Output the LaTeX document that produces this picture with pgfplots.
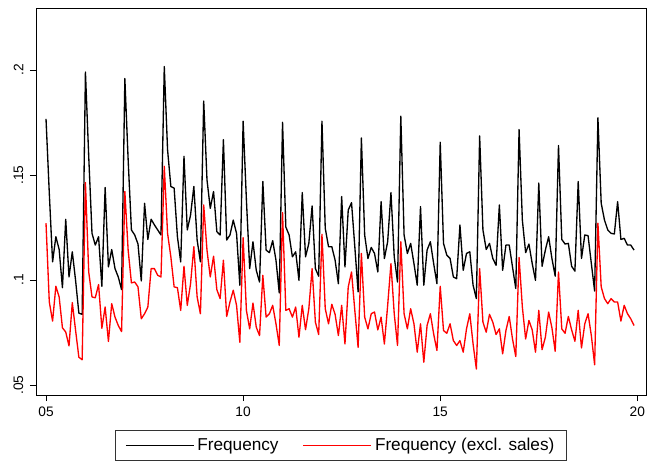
\documentclass[border=0pt]{standalone}
\usepackage{fontspec}
\setmainfont{Liberation Sans}
\usepackage{pgfplots}
\usepackage{pgfplotstable}
\pgfplotsset{compat=1.18}

\pgfplotstableread{
yr m f fx
5 1 0.1767 0.1270
5 2 0.1413 0.0895
5 3 0.1086 0.0804
5 4 0.1206 0.0970
5 5 0.1145 0.0919
5 6 0.0963 0.0772
5 7 0.1289 0.0752
5 8 0.1014 0.0686
5 9 0.1134 0.0892
5 10 0.0998 0.0760
5 11 0.0842 0.0632
5 12 0.0836 0.0620
6 1 0.1990 0.1464
6 2 0.1589 0.1038
6 3 0.1222 0.0919
6 4 0.1166 0.0915
6 5 0.1206 0.0978
6 6 0.0970 0.0770
6 7 0.1440 0.0871
6 8 0.1062 0.0707
6 9 0.1145 0.0887
6 10 0.1054 0.0823
6 11 0.1014 0.0783
6 12 0.0954 0.0754
7 1 0.1959 0.1421
7 2 0.1573 0.1142
7 3 0.1238 0.0986
7 4 0.1214 0.0990
7 5 0.1171 0.0967
7 6 0.0995 0.0815
7 7 0.1365 0.0839
7 8 0.1193 0.0871
7 9 0.1289 0.1054
7 10 0.1262 0.1054
7 11 0.1238 0.1022
7 12 0.1214 0.1014
8 1 0.2016 0.1541
8 2 0.1620 0.1222
8 3 0.1445 0.1110
8 4 0.1437 0.0967
8 5 0.1206 0.0963
8 6 0.1086 0.0855
8 7 0.1589 0.1065
8 8 0.1238 0.0879
8 9 0.1309 0.0982
8 10 0.1445 0.1158
8 11 0.1190 0.0919
8 12 0.1086 0.0839
9 1 0.1852 0.1357
9 2 0.1477 0.1142
9 3 0.1341 0.1014
9 4 0.1421 0.1113
9 5 0.1230 0.0954
9 6 0.1214 0.0911
9 7 0.1668 0.1094
9 8 0.1190 0.0826
9 9 0.1214 0.0895
9 10 0.1285 0.0951
9 11 0.1222 0.0879
9 12 0.0975 0.0703
10 1 0.1756 0.1201
10 2 0.1381 0.0855
10 3 0.1054 0.0767
10 4 0.1182 0.0890
10 5 0.1046 0.0775
10 6 0.0990 0.0735
10 7 0.1469 0.1022
10 8 0.1142 0.0823
10 9 0.1130 0.0839
10 10 0.1187 0.0879
10 11 0.1094 0.0791
10 12 0.0938 0.0688
11 1 0.1751 0.1321
11 2 0.1252 0.0855
11 3 0.1214 0.0863
11 4 0.1110 0.0823
11 5 0.1134 0.0871
11 6 0.0998 0.0727
11 7 0.1416 0.0879
11 8 0.1110 0.0763
11 9 0.1174 0.0863
11 10 0.1352 0.1054
11 11 0.1054 0.0799
11 12 0.1018 0.0740
12 1 0.1756 0.1217
12 2 0.1246 0.0863
12 3 0.1158 0.0791
12 4 0.1158 0.0884
12 5 0.1094 0.0836
12 6 0.0982 0.0735
12 7 0.1397 0.0879
12 8 0.1062 0.0695
12 9 0.1333 0.0967
12 10 0.1368 0.1038
12 11 0.1158 0.0855
12 12 0.0943 0.0679
13 1 0.1676 0.1126
13 2 0.1214 0.0823
13 3 0.1102 0.0767
13 4 0.1155 0.0839
13 5 0.1126 0.0847
13 6 0.1038 0.0762
13 7 0.1373 0.0823
13 8 0.1102 0.0695
13 9 0.1182 0.0879
13 10 0.1416 0.1078
13 11 0.1110 0.0839
13 12 0.0990 0.0688
14 1 0.1780 0.1182
14 2 0.1214 0.0839
14 3 0.1126 0.0767
14 4 0.1174 0.0863
14 5 0.1078 0.0791
14 6 0.0975 0.0656
14 7 0.1349 0.0791
14 8 0.0975 0.0608
14 9 0.1142 0.0783
14 10 0.1182 0.0839
14 11 0.1078 0.0743
14 12 0.0982 0.0664
15 1 0.1656 0.0970
15 2 0.1174 0.0759
15 3 0.1118 0.0746
15 4 0.1102 0.0791
15 5 0.1014 0.0711
15 6 0.1006 0.0688
15 7 0.1262 0.0711
15 8 0.1046 0.0656
15 9 0.1126 0.0767
15 10 0.1134 0.0839
15 11 0.0975 0.0695
15 12 0.0911 0.0576
16 1 0.1686 0.1054
16 2 0.1238 0.0799
16 3 0.1145 0.0751
16 4 0.1174 0.0836
16 5 0.1102 0.0799
16 6 0.1070 0.0740
16 7 0.1357 0.0767
16 8 0.1046 0.0648
16 9 0.1166 0.0759
16 10 0.1166 0.0826
16 11 0.1062 0.0719
16 12 0.0959 0.0635
17 1 0.1716 0.1107
17 2 0.1285 0.0871
17 3 0.1130 0.0719
17 4 0.1171 0.0807
17 5 0.1078 0.0762
17 6 0.0998 0.0656
17 7 0.1461 0.0855
17 8 0.1065 0.0668
17 9 0.1142 0.0727
17 10 0.1206 0.0847
17 11 0.1102 0.0772
17 12 0.1018 0.0660
18 1 0.1640 0.1038
18 2 0.1193 0.0767
18 3 0.1171 0.0746
18 4 0.1174 0.0826
18 5 0.1065 0.0762
18 6 0.1042 0.0708
18 7 0.1469 0.0855
18 8 0.1102 0.0676
18 9 0.1214 0.0791
18 10 0.1211 0.0839
18 11 0.1078 0.0735
18 12 0.0947 0.0596
19 1 0.1772 0.1270
19 2 0.1365 0.0967
19 3 0.1285 0.0911
19 4 0.1238 0.0887
19 5 0.1222 0.0911
19 6 0.1219 0.0895
19 7 0.1373 0.0895
19 8 0.1193 0.0804
19 9 0.1198 0.0879
19 10 0.1166 0.0839
19 11 0.1166 0.0815
19 12 0.1142 0.0783
}\datatable

\begin{document}
\begin{tikzpicture}
\path[use as bounding box] (-27pt,-49.5pt) rectangle (459pt,296.25pt);
\clip (-27pt,-49.5pt) rectangle (459pt,296.25pt);
\begin{axis}[
  at={(0pt,0pt)}, anchor=south west,
  scale only axis,
  width=457.5pt, height=290.25pt,
  xmin=4.746, xmax=20.22,
  ymin=0.0452, ymax=0.2295,
  axis line style={black, line width=0.6pt},
  xtick={5,10,15,20},
  xticklabels={05,10,15,20},
  ytick={0.05,0.1,0.15,0.2},
  yticklabels={.05,.1,.15,.2},
  xtick pos=bottom, ytick pos=left,
  tick align=outside,
  major tick length=4.5pt,
  tick style={black, line width=0.6pt},
  tick label style={font=\fontsize{10.3}{12}\selectfont},
  yticklabel style={rotate=90, anchor=south, xshift=0pt, yshift=1.5pt},
  xticklabel style={yshift=-1pt},
  legend style={
    at={(0.5,-0.0904)}, anchor=north,
    legend columns=2,
    draw=black!80,
    font=\fontsize{12.9}{15}\selectfont,
    inner xsep=7pt, inner ysep=4pt,
    /tikz/every even column/.append style={column sep=16pt},
  },
  legend cell align=left,
  legend image code/.code={\draw[#1, line width=1.3pt] (0pt,0pt) -- (51pt,0pt);},
]
\addplot[black, line width=1pt, line join=round]
  table[x expr=\thisrow{yr}+(\thisrow{m}-1)/12, y=f] {\datatable};
\addlegendentry{Frequency}
\addplot[red, line width=1pt, line join=round]
  table[x expr=\thisrow{yr}+(\thisrow{m}-1)/12, y=fx] {\datatable};
\addlegendentry{Frequency (excl. sales)}
\end{axis}
\end{tikzpicture}
\end{document}
